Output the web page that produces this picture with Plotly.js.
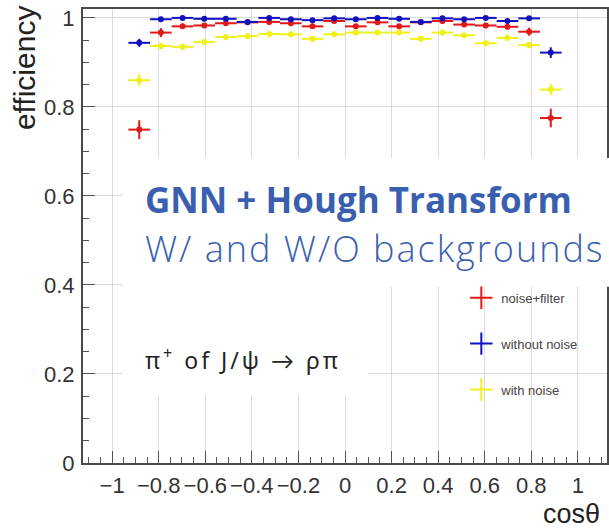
<!DOCTYPE html>
<html>
<head>
<meta charset="utf-8">
<script src="https://cdn.plot.ly/plotly-3.0.1.min.js"></script>
<style>
  html, body { margin: 0; padding: 0; background: #fff; }
  #plot { width: 609px; height: 530px; }
</style>
</head>
<body>
<div id="plot"></div>
<script>
// 20 cos(theta) bins between -0.93 and 0.93 (bin centres), half bin width 0.0465
const cosTheta = [-0.8835, -0.7905, -0.6975, -0.6045, -0.5115, -0.4185, -0.3255, -0.2325, -0.1395, -0.0465,
                   0.0465,  0.1395,  0.2325,  0.3255,  0.4185,  0.5115,  0.6045,  0.6975,  0.7905,  0.8835];
const binHalfWidth = 0.0465;

// tracking efficiency per bin
const effNoiseFilter  = [0.749, 0.967, 0.981, 0.983, 0.988, 0.990, 0.991, 0.988, 0.981, 0.993,
                         0.981, 0.990, 0.981, 0.990, 0.993, 0.985, 0.983, 0.980, 0.969, 0.775];
const errNoiseFilter  = [0.021, 0.010, 0.006, 0.005, 0.005, 0.005, 0.005, 0.005, 0.005, 0.005,
                         0.005, 0.005, 0.005, 0.005, 0.005, 0.005, 0.005, 0.006, 0.009, 0.021];

const effWithoutNoise = [0.944, 0.997, 1.000, 0.998, 0.998, 0.991, 1.000, 0.997, 0.995, 0.999,
                         0.997, 1.000, 0.998, 0.991, 0.999, 0.997, 1.000, 0.993, 0.999, 0.922];
const errWithoutNoise = [0.009, 0.003, 0.002, 0.002, 0.002, 0.003, 0.002, 0.002, 0.002, 0.002,
                         0.002, 0.002, 0.002, 0.003, 0.002, 0.002, 0.002, 0.003, 0.002, 0.012];

const effWithNoise    = [0.860, 0.937, 0.935, 0.946, 0.957, 0.959, 0.964, 0.963, 0.953, 0.963,
                         0.967, 0.967, 0.967, 0.953, 0.967, 0.961, 0.943, 0.955, 0.939, 0.839];
const errWithNoise    = [0.013, 0.007, 0.007, 0.006, 0.006, 0.006, 0.006, 0.006, 0.006, 0.006,
                         0.006, 0.006, 0.006, 0.006, 0.006, 0.006, 0.006, 0.006, 0.007, 0.013];

const seriesNames  = ['noise+filter', 'without noise', 'with noise'];
const seriesColors = ['#e01818', '#1010c0', '#f0f01a'];

const tickFont = { family: 'Liberation Sans, Arial, sans-serif', size: 22, color: '#333' };

function histTrace(y, err, color) {
  return {
    type: 'scatter', mode: 'markers', x: cosTheta, y: y, showlegend: false,
    marker: { color: color, size: 6 },
    error_x: { type: 'constant', value: binHalfWidth, color: color, thickness: 2, width: 0 },
    error_y: { type: 'data', array: err, color: color, thickness: 2, width: 0 },
    hoverinfo: 'skip'
  };
}

function legendTrace(name, color) {
  return {
    type: 'scatter', mode: 'markers', x: [null], y: [null], name: name, legendgroup: name,
    marker: { symbol: 'cross-thin-open', size: 20, color: color, line: { color: color, width: 2 } }
  };
}

const data = [
  histTrace(effWithNoise, errWithNoise, seriesColors[2]),
  histTrace(effNoiseFilter, errNoiseFilter, seriesColors[0]),
  histTrace(effWithoutNoise, errWithoutNoise, seriesColors[1]),
  legendTrace(seriesNames[0], seriesColors[0]),
  legendTrace(seriesNames[1], seriesColors[1]),
  legendTrace(seriesNames[2], seriesColors[2])
];

const axisCommon = {
  dtick: 0.2, tick0: 0,
  ticks: 'inside', ticklen: 12, tickwidth: 1, tickcolor: '#555',
  minor: { dtick: 0.05, ticks: 'inside', ticklen: 6, tickwidth: 1, tickcolor: '#555', showgrid: false },
  showgrid: true, gridcolor: '#dcdcdc', gridwidth: 1,
  zeroline: false,
  showline: true, mirror: true, linecolor: '#4a4a4a', linewidth: 2,
  tickfont: tickFont, fixedrange: true
};

// letter spacing (px) applied to the overlay captions after drawing
const captionSpacing = { 3: 2, 4: 3 };

const layout = {
  width: 609, height: 530,
  margin: { l: 83, r: 2, t: 9, b: 67 },
  paper_bgcolor: '#fff', plot_bgcolor: '#fff',
  xaxis: Object.assign({}, axisCommon, { range: [-1.125, 1.125], ticklabelstandoff: 2 }),
  yaxis: Object.assign({}, axisCommon, { range: [0, 1.02], ticklabelstandoff: 2 }),
  showlegend: true,
  legend: {
    x: 0.722, y: 0.397, xanchor: 'left', yanchor: 'top',
    bgcolor: 'rgba(0,0,0,0)', borderwidth: 0,
    font: { family: 'Liberation Sans, Arial, sans-serif', size: 13, color: '#444' },
    tracegroupgap: 26, itemwidth: 30, traceorder: 'grouped'
  },
  shapes: [
    { type: 'rect', xref: 'paper', yref: 'paper', x0: 0.0763, x1: 1.01, y0: 0.388, y1: 0.672,
      fillcolor: '#fff', line: { width: 0 }, layer: 'above' },
    { type: 'rect', xref: 'paper', yref: 'paper', x0: 0.0763, x1: 0.544, y0: 0.148, y1: 0.388,
      fillcolor: '#fff', line: { width: 0 }, layer: 'above' }
  ],
  annotations: [
    { text: 'efficiency', xref: 'paper', yref: 'paper', x: -0.1126, y: 0.872, textangle: -90,
      xanchor: 'center', yanchor: 'middle', showarrow: false,
      font: { family: 'Liberation Sans, Arial, sans-serif', size: 30, color: '#222' } },
    { text: 'cosθ', xref: 'paper', yref: 'paper', x: 0.932, y: -0.112,
      xanchor: 'center', yanchor: 'middle', showarrow: false,
      font: { family: 'Liberation Sans, Arial, sans-serif', size: 27, color: '#222' } },
    { text: 'GNN + Hough Transform', xref: 'paper', yref: 'paper', x: 0.1145, y: 0.581,
      xanchor: 'left', yanchor: 'middle', align: 'left', showarrow: false,
      font: { family: 'Open Sans, Lato, sans-serif', size: 35, weight: 700, color: '#3a5fae' } },
    { text: 'W/ and W/O backgrounds', xref: 'paper', yref: 'paper', x: 0.1145, y: 0.472,
      xanchor: 'left', yanchor: 'middle', align: 'left', showarrow: false,
      font: { family: 'Open Sans, Lato, sans-serif', size: 36, weight: 300, color: '#3a5fae' } },
    { text: 'π<sup>+</sup> of J/ψ → ρπ', xref: 'paper', yref: 'paper', x: 0.1145, y: 0.229,
      xanchor: 'left', yanchor: 'middle', align: 'left', showarrow: false,
      font: { family: 'Noto Sans, Lato, sans-serif', size: 23, color: '#222' } }
  ]
};

Plotly.newPlot('plot', data, layout, { staticPlot: true, displayModeBar: false }).then(function (gd) {
  Object.keys(captionSpacing).forEach(function (idx) {
    const t = gd.querySelector('.annotation[data-index="' + idx + '"] .annotation-text');
    if (t) t.style.letterSpacing = captionSpacing[idx] + 'px';
  });
});
</script>
</body>
</html>
